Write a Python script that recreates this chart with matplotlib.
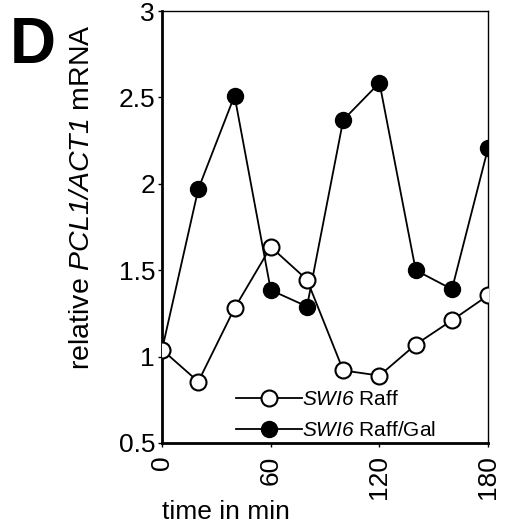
import matplotlib
matplotlib.use("Agg")
import matplotlib.pyplot as plt

plt.rcParams['font.family'] = ['Liberation Sans', 'DejaVu Sans']
# math text only used for italic gene names, so make it all italic
plt.rcParams['mathtext.fontset'] = 'custom'
plt.rcParams['mathtext.rm'] = 'Liberation Sans:italic'
plt.rcParams['mathtext.it'] = 'Liberation Sans:italic'

# time points (min)
time_min = [0, 20, 40, 60, 80, 100, 120, 140, 160, 180]

# relative PCL1/ACT1 mRNA
swi6_raff = [1.04, 0.855, 1.28, 1.635, 1.445, 0.92, 0.89, 1.07, 1.21, 1.355]
swi6_raff_gal = [1.04, 1.97, 2.51, 1.385, 1.29, 2.37, 2.585, 1.50, 1.39, 2.21]

x_ticks = [0, 60, 120, 180]
y_ticks = [0.5, 1, 1.5, 2, 2.5, 3]
y_ticklabels = ['0.5', '1', '1.5', '2', '2.5', '3']

fig = plt.figure(figsize=(5.08, 5.28), dpi=100)
ax = fig.add_axes([0.319, 0.161, 0.642, 0.818])

ax.plot(time_min, swi6_raff, color='black', lw=1.3, marker='o', ms=11.5,
        mfc='white', mec='black', mew=1.5, label=r'$SWI6$ Raff', zorder=3)
ax.plot(time_min, swi6_raff_gal, color='black', lw=1.3, marker='o', ms=11.5,
        mfc='black', mec='black', label=r'$SWI6$ Raff/Gal', zorder=2)

ax.set_xlim(0, 180)
ax.set_ylim(0.5, 3)
ax.set_xticks(x_ticks)
ax.set_xticklabels([str(t) for t in x_ticks], rotation=90, fontsize=19)
ax.set_yticks(y_ticks)
ax.set_yticklabels(y_ticklabels, fontsize=19)
ax.tick_params(axis='y', direction='out', length=3, width=1, pad=2)
ax.tick_params(axis='x', direction='out', length=3, width=1, pad=6)

for side in ['left', 'bottom']:
    ax.spines[side].set_linewidth(2)
for side in ['top', 'right']:
    ax.spines[side].set_linewidth(1)

ax.set_xlabel('time in min', fontsize=19)
ax.xaxis.set_label_coords(0.195, -0.132)
ax.set_ylabel(r'relative $PCL1/ACT1$ mRNA', fontsize=20.5)
ax.yaxis.set_label_coords(-0.205, 0.57)

leg = ax.legend(loc='lower left', bbox_to_anchor=(0.2, -0.012), frameon=False,
                fontsize=15, handlelength=3.2, handletextpad=0.0,
                labelspacing=0.55, borderaxespad=0)

fig.text(0.02, 0.97, 'D', fontsize=46, fontweight='bold', va='top', ha='left')

fig.savefig('out.png', dpi=100)
